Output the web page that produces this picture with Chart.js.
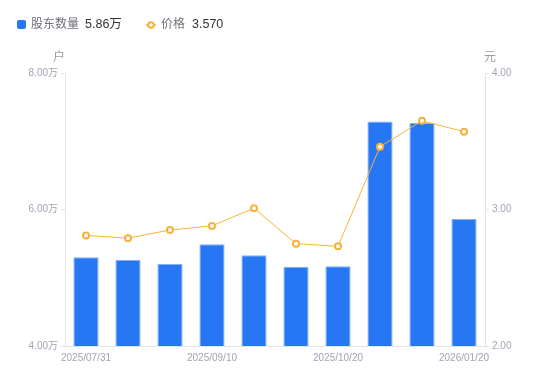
<!DOCTYPE html>
<html>
<head>
<meta charset="utf-8">
<script src="https://cdn.jsdelivr.net/npm/chart.js@4/dist/chart.umd.min.js"></script>
<style>
  html, body { margin: 0; padding: 0; background: #fff; }
  #wrap { width: 550px; height: 381px; }
</style>
</head>
<body>
<div id="wrap"><canvas id="chart" width="550" height="381"></canvas></div>
<script>
const dates = ['2025/07/31', '2025/08/20', '2025/08/31', '2025/09/10', '2025/09/19',
    '2025/09/30', '2025/10/20', '2025/10/31', '2025/12/31', '2026/01/20']
// 股东数量, in 万户
const holders = [5.30, 5.26, 5.20, 5.49, 5.33, 5.16, 5.17, 7.29, 7.27, 5.86]
// 价格, in 元
const prices = [2.81, 2.79, 2.85, 2.88, 3.01, 2.75, 2.73, 3.46, 3.65, 3.57]
const shownTicks = ['2025/07/31', '2025/09/10', '2025/10/20', '2026/01/20']

const FONT = '"Liberation Sans", "Noto Sans CJK SC", sans-serif'
const TICK_COLOR = '#a2a4b3'
const BLUE = '#2777f5'
const ORANGE = '#f7b23b'

const legendPlugin = {
    id: 'legendTitles',
    afterDraw(chart) {
        const c = chart.ctx
        c.save()
        c.textBaseline = 'middle'
        c.font = '12px ' + FONT

        // blue square
        c.fillStyle = BLUE
        c.beginPath()
        c.roundRect(17, 20, 9, 9, 2)
        c.fill()
        c.fillStyle = '#6e7079'
        c.fillText('股东数量', 31, 25)
        c.fillStyle = '#333'
        c.font = '12.5px ' + FONT
        c.fillText(holders[holders.length - 1].toFixed(2) + '万', 85, 25)

        // orange line + point
        c.strokeStyle = ORANGE
        c.lineWidth = 1.5
        c.beginPath()
        c.moveTo(146, 25)
        c.lineTo(156, 25)
        c.stroke()
        c.fillStyle = '#fff'
        c.lineWidth = 2
        c.beginPath()
        c.arc(151, 25, 2.8, 0, Math.PI * 2)
        c.fill()
        c.stroke()
        c.font = '12px ' + FONT
        c.fillStyle = '#6e7079'
        c.fillText('价格', 161, 25)
        c.fillStyle = '#333'
        c.font = '12.5px ' + FONT
        c.fillText(prices[prices.length - 1].toFixed(3), 192, 25)

        // axis titles
        c.font = '12px ' + FONT
        c.fillStyle = '#9a9ca8'
        c.textAlign = 'center'
        c.fillText('户', 59, 58)
        c.fillText('元', 490, 58)
        c.restore()
    }
}

const chart = new Chart(document.getElementById('chart').getContext('2d'), {
    data: {
        labels: dates,
        datasets: [{
            type: 'line',
            label: '价格',
            data: prices,
            yAxisID: 'y1',
            borderColor: ORANGE,
            borderWidth: 1,
            pointRadius: 3,
            pointBorderWidth: 2,
            pointBackgroundColor: '#fff',
            pointBorderColor: ORANGE,
            tension: 0,
            order: 0
        }, {
            type: 'bar',
            label: '股东数量',
            data: holders,
            yAxisID: 'y',
            backgroundColor: BLUE,
            borderColor: '#80b1fa',
            borderWidth: { top: 1, left: 1, right: 1, bottom: 0 },
            categoryPercentage: 1,
            barPercentage: 0.6,
            order: 1
        }]
    },
    options: {
        responsive: false,
        animation: false,
        layout: { padding: { top: 73, left: 0, right: 0, bottom: 0 } },
        plugins: {
            legend: { display: false },
            tooltip: { enabled: false }
        },
        scales: {
            x: {
                grid: { display: false, drawTicks: false },
                border: { display: true, color: '#e3e4e8' },
                ticks: {
                    autoSkip: false,
                    maxRotation: 0,
                    padding: 6,
                    color: TICK_COLOR,
                    font: { size: 10, family: FONT },
                    callback(v) {
                        const lbl = this.getLabelForValue(v)
                        return shownTicks.includes(lbl) ? lbl : ''
                    }
                },
                afterFit(s) { s.height = 35 }
            },
            y: {
                position: 'left',
                min: 4,
                max: 8,
                grid: { drawOnChartArea: false, drawTicks: true, tickLength: 4, color: '#e3e4e8' },
                border: { display: true, color: '#e3e4e8' },
                ticks: {
                    stepSize: 2,
                    padding: 3,
                    color: TICK_COLOR,
                    font: { size: 10, family: FONT },
                    callback: v => v.toFixed(2) + '万'
                },
                afterFit(s) { s.width = 65 }
            },
            y1: {
                position: 'right',
                min: 2,
                max: 4,
                grid: { drawOnChartArea: false, drawTicks: true, tickLength: 4, color: '#e3e4e8' },
                border: { display: true, color: '#e3e4e8' },
                ticks: {
                    stepSize: 1,
                    padding: 3,
                    color: TICK_COLOR,
                    font: { size: 10, family: FONT },
                    callback: v => v.toFixed(2)
                },
                afterFit(s) { s.width = 65 }
            }
        }
    },
    plugins: [legendPlugin]
})
</script>
</body>
</html>
